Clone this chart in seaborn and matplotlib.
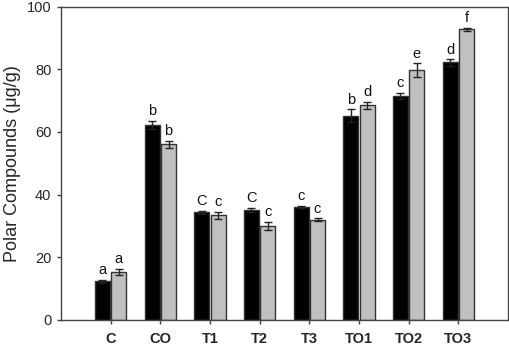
import matplotlib
matplotlib.use("Agg")
import matplotlib.pyplot as plt
import seaborn as sns
import pandas as pd
import numpy as np

categories = ["C", "CO", "T1", "T2", "T3", "TO1", "TO2", "TO3"]
series_names = ["S1", "S2"]
black_vals = [12.4, 62.2, 34.3, 35.1, 36.1, 65.2, 71.5, 82.2]
black_err = [0.5, 1.3, 0.6, 0.7, 0.3, 2.0, 1.0, 1.0]
gray_vals = [15.3, 56.1, 33.4, 30.1, 32.0, 68.5, 79.7, 92.8]
gray_err = [1.0, 1.1, 1.1, 1.3, 0.4, 1.2, 2.2, 0.5]
black_letters = ["a", "b", "C", "C", "c", "b", "c", "d"]
gray_letters = ["a", "b", "c", "c", "c", "d", "e", "f"]
yticks = [0, 20, 40, 60, 80, 100]

sns.set_style("ticks")
plt.rcParams['font.family'] = ['Liberation Sans', 'DejaVu Sans']

df = pd.DataFrame({
    "cat": categories * 2,
    "series": [series_names[0]] * len(categories) + [series_names[1]] * len(categories),
    "val": black_vals + gray_vals,
})

fig = plt.figure(figsize=(5.10, 3.48), dpi=100)
ax = fig.add_axes([0.1196, 0.0805, 0.8765, 0.9005])
sns.barplot(data=df, x="cat", y="val", hue="series", order=categories,
            hue_order=series_names, palette=["#000000", "#c0c0c0"],
            width=0.66, gap=0.1, errorbar=None, legend=False,
            edgecolor="#333333", linewidth=1.0, ax=ax)

patches = [p for p in ax.patches]
n = len(categories)
black_p = patches[:n]
gray_p = patches[n:2 * n]

for plist, vals, errs, letters in [(black_p, black_vals, black_err, black_letters),
                                   (gray_p, gray_vals, gray_err, gray_letters)]:
    xs = [p.get_x() + p.get_width() / 2 for p in plist]
    ax.errorbar(xs, vals, yerr=errs, fmt="none", ecolor="#222222",
                elinewidth=1.0, capsize=3.2, capthick=1.0, zorder=5)
    for x, v, e, t in zip(xs, vals, errs, letters):
        ax.text(x, v + e + 0.8, t, ha="center", va="bottom", fontsize=10.5, color="#111111")

ax.set_xlim(-1, 8)
ax.set_ylim(0, 100)
ax.set_yticks(yticks)
ax.set_yticklabels([str(t) for t in yticks], fontsize=10.5)
ax.set_xticks(range(n))
ax.set_xticklabels(categories, fontsize=10.5, fontweight="bold")
ax.set_xlabel("")
ax.set_ylabel("Polar Compounds (μg/g)", fontsize=13, labelpad=4)
for s in ax.spines.values():
    s.set_visible(True)
    s.set_color("#444444")
    s.set_linewidth(1.0)
ax.tick_params(axis="both", direction="out", length=3, width=1.0, color="#444444")
ax.tick_params(axis="x", pad=6)
ax.tick_params(axis="y", pad=4)

fig.savefig("out.png", dpi=100)
